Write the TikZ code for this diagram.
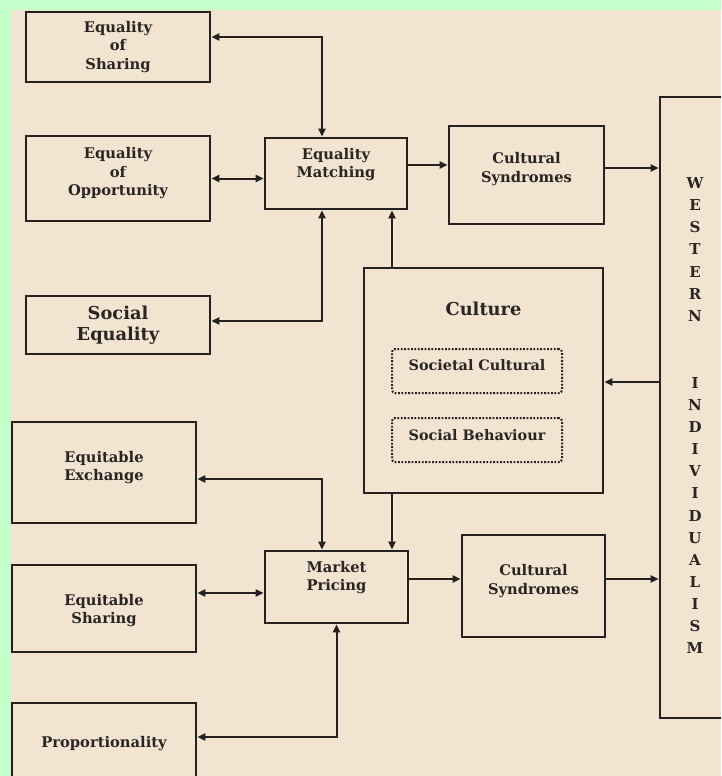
\documentclass[tikz,border=0pt]{standalone}
\usepackage{fontspec}
\setmainfont{DejaVu Serif}
\usetikzlibrary{arrows.meta}
\definecolor{paper}{RGB}{243,227,209}
\definecolor{mint}{RGB}{197,255,201}
\definecolor{ink}{RGB}{36,34,32}
\definecolor{txt}{RGB}{40,37,34}
\begin{document}
\begin{tikzpicture}[x=1pt,y=-1pt,
  box/.style={draw=ink, line width=2.6pt, inner sep=0pt},
  dotbox/.style={draw=ink, line width=2pt, dash pattern=on 1.8pt off 1.6pt,
                 rounded corners=3pt, inner sep=0pt},
  lbl/.style={text=txt, inner sep=0pt, align=center,
              font=\bfseries\fontsize{14.7}{18.5}\selectfont},
  biglbl/.style={lbl, font=\bfseries\fontsize{17.8}{21}\selectfont},
  smalllbl/.style={lbl, font=\bfseries\fontsize{14.4}{17}\selectfont},
  letter/.style={lbl, font=\bfseries\fontsize{15}{18}\selectfont},
  conn/.style={draw=ink, line width=2pt},
  arr/.style={conn, -{Triangle[length=8pt,width=7pt]}},
  dbl/.style={conn, {Triangle[length=8pt,width=7pt]}-{Triangle[length=8pt,width=7pt]}}]

% page and coloured margin
\useasboundingbox (0,0) rectangle (721,776);
\fill[mint] (0,0) rectangle (721,776);
\fill[paper] (12,10.5) rectangle (721,776);
\clip (0,0) rectangle (721,776);

% boxes
\node[box, minimum width=184pt, minimum height=70pt]  (eqs)  at (118,47)     {};
\node[box, minimum width=184pt, minimum height=85pt]  (eqo)  at (118,178.5)  {};
\node[box, minimum width=142pt, minimum height=71pt]  (eqm)  at (336,173.5)  {};
\node[box, minimum width=155pt, minimum height=98pt]  (cs1)  at (526.5,175)  {};
\node[box, minimum width=85pt,  minimum height=621pt] (west) at (702.5,407.5) {};
\node[box, minimum width=184pt, minimum height=58pt]  (soc)  at (118,325)    {};
\node[box, minimum width=239pt, minimum height=225pt] (cul)  at (483.5,380.5) {};
\node[dotbox, minimum width=170pt, minimum height=44pt] (scd) at (477,371) {};
\node[dotbox, minimum width=170pt, minimum height=44pt] (sbd) at (477,440) {};
\node[box, minimum width=184pt, minimum height=101pt] (exch) at (104,472.5)  {};
\node[box, minimum width=143pt, minimum height=72pt]  (mp)   at (336.5,587)  {};
\node[box, minimum width=143pt, minimum height=102pt] (cs2)  at (533.5,586)  {};
\node[box, minimum width=184pt, minimum height=87pt]  (esh)  at (104,608.5)  {};
\node[box, minimum width=184pt, minimum height=92pt]  (prop) at (104,749)    {};

% labels
\node[lbl] (eqs-t)  at (118,47)      {Equality\\of\\Sharing};
\node[lbl] (eqo-t)  at (118,173.5)   {Equality\\of\\Opportunity};
\node[lbl] (eqm-t)  at (336,164.5)   {Equality\\Matching};
\node[lbl] (cs1-t)  at (526.5,169)   {Cultural\\Syndromes};
\node[biglbl] (soc-t) at (118,325.5) {Social\\Equality};
\node[biglbl] (cul-t) at (483.5,309) {Culture};
\node[smalllbl] (scd-t) at (477,365.5) {Societal Cultural};
\node[smalllbl] (sbd-t) at (477,435)   {Social Behaviour};
\node[lbl] (exch-t) at (104,467.5)   {Equitable\\Exchange};
\node[lbl] (mp-t)   at (336.5,577.5) {Market\\Pricing};
\node[lbl] (cs2-t)  at (533.5,581)   {Cultural\\Syndromes};
\node[lbl] (esh-t)  at (104,610.5)   {Equitable\\Sharing};
\node[lbl] (prop-t) at (104,744)     {Proportionality};

% vertical lettering
\foreach \ch [count=\i] in {W,E,S,T,E,R,N}
  \node[letter] (wa\i) at (695,{183+22.14*(\i-1)}) {\ch};
\foreach \ch [count=\i] in {I,N,D,I,V,I,D,U,A,L,I,S,M}
  \node[letter] (wb\i) at (695,{383+22.1*(\i-1)}) {\ch};

% connectors: equality matching
\draw[dbl] ([yshift=10pt]eqs.east) -| ([xshift=-14pt]eqm.north);
\draw[dbl] (eqo.east) -- (eqo.east -| eqm.west);
\draw[dbl] ([yshift=4pt]soc.east) -| ([xshift=-14pt]eqm.south);
\coordinate (eqmr) at ([yshift=8.5pt]eqm.east);
\draw[arr] (eqmr) -- (eqmr -| cs1.west);
\coordinate (cs1r) at ([yshift=7pt]cs1.east);
\draw[arr] (cs1r) -- (cs1r -| west.west);
\coordinate (eqmb) at ([xshift=56pt]eqm.south);
\draw[arr] (eqmb |- cul.north) -- (eqmb);

% connectors: culture
\coordinate (culr) at ([yshift=-1.5pt]cul.east);
\draw[arr] (culr -| west.west) -- (culr);
\coordinate (mpt) at ([xshift=55.5pt]mp.north);
\draw[arr] (mpt |- cul.south) -- (mpt);

% connectors: market pricing
\draw[dbl] ([yshift=-6.5pt]exch.east) -| ([xshift=-14.5pt]mp.north);
\coordinate (mpl) at ([yshift=-6pt]mp.west);
\draw[dbl] (mpl -| esh.east) -- (mpl);
\draw[dbl] (mp.south) |- ([yshift=12pt]prop.east);
\coordinate (mpr) at ([yshift=8pt]mp.east);
\draw[arr] (mpr) -- (mpr -| cs2.west);
\coordinate (cs2r) at ([yshift=7pt]cs2.east);
\draw[arr] (cs2r) -- (cs2r -| west.west);
\end{tikzpicture}
\end{document}
